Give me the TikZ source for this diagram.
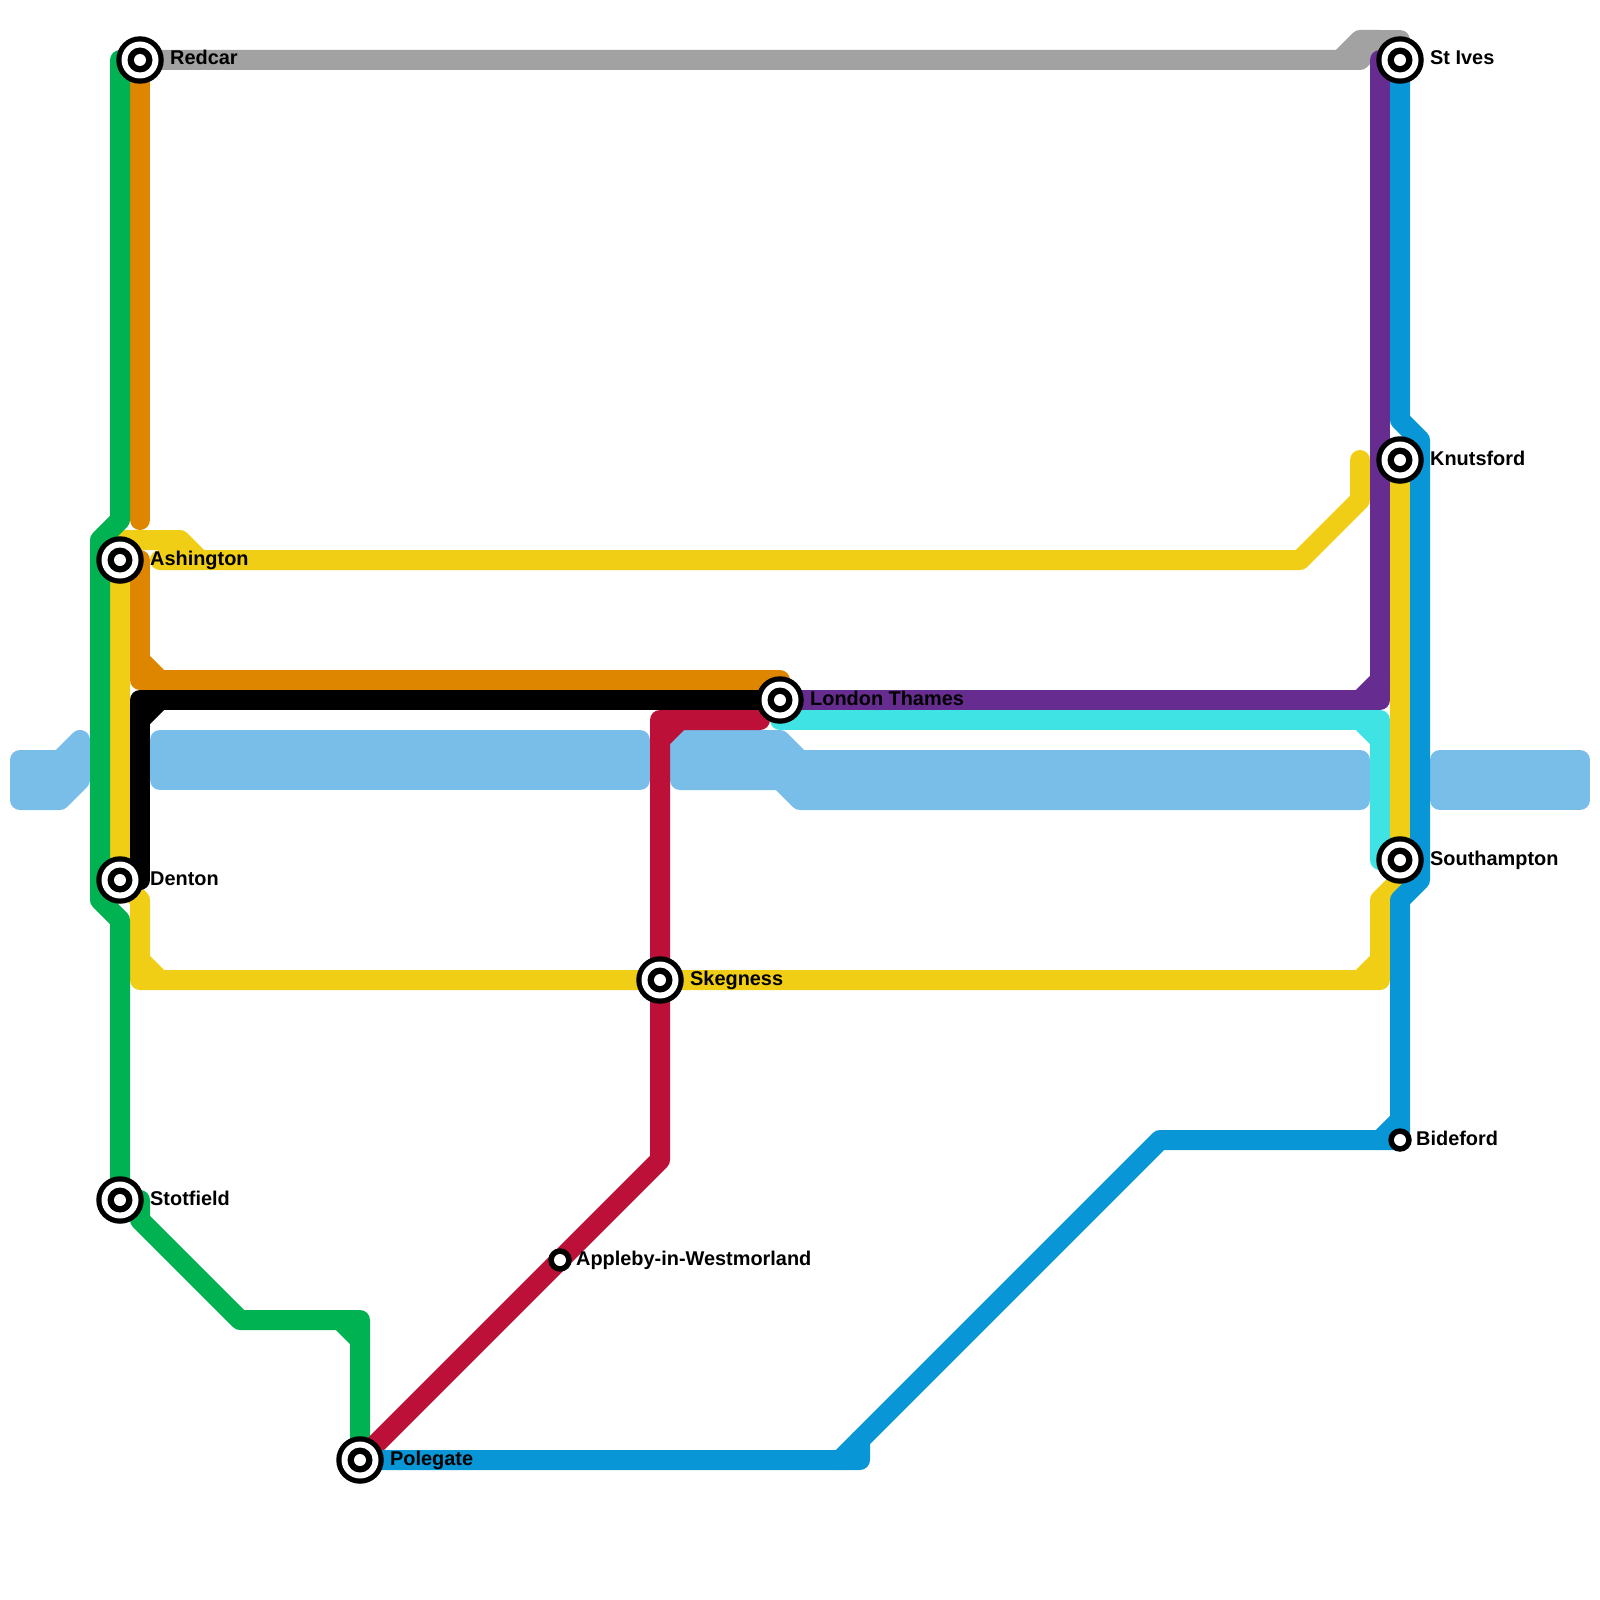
\documentclass[tikz,border=0pt]{standalone}
\usepackage{fontspec}
\setmainfont{Liberation Sans}

\definecolor{riverblue}{HTML}{79BDE9}
\definecolor{linegray}{HTML}{A2A2A2}
\definecolor{lineyellow}{HTML}{F0CE15}
\definecolor{lineorange}{HTML}{DF8600}
\definecolor{linegreen}{HTML}{00B251}
\definecolor{linepurple}{HTML}{662C90}
\definecolor{linecyan}{HTML}{40E3E3}
\definecolor{linered}{HTML}{BD1038}
\definecolor{lineblue}{HTML}{0896D7}

\begin{document}
\begin{tikzpicture}[x=1pt, y=-1pt,
		river/.style={fill=riverblue, draw=riverblue, line width=20pt, line join=round},
		route/.style={line width=20pt, line cap=round, line join=round},
		stopdisc/.style={circle, fill=#1, inner sep=0pt, outer sep=0pt},
		stoplabel/.style={anchor=base west, inner sep=0pt, font=\bfseries\fontsize{19.9}{22}\selectfont}]
		\useasboundingbox (0, 0) rectangle (1600, 1600);
		
		\foreach \name/\x/\y in {redcar/140/60, ashington/120/560, denton/120/880, stotfield/120/1200, polegate/360/1460, appleby/560/1260, skegness/660/980, thames/780/700, stives/1400/60, knutsford/1400/460, southampton/1400/860, bideford/1400/1140}
		\coordinate (\name) at (\x, \y);
		
		% River
		\draw[river] (20, 760) -- (60, 760) -- (80, 740) -- (80, 780) -- (60, 800) -- (20, 800) -- cycle;
		\draw[river] (160, 740) -- (640, 740) -- (640, 780) -- (160, 780) -- cycle;
		\draw[river] (680, 740) -- (780, 740) -- (800, 760) -- (1360, 760) -- (1360, 800) -- (800, 800) -- (780, 780) -- (680, 780) -- cycle;
		\draw[river] (1440, 760) -- (1580, 760) -- (1580, 800) -- (1440, 800) -- cycle;
		
		% Gray line
		\draw[route, linegray] (redcar) -- (1360, 60) -- (1380, 40) -- (1360, 40) -- (1340, 60);
		\draw[route, linegray] (1380, 40) -- (1400, 40) -- (stives);
		
		% Yellow line
		\draw[route, lineyellow] (denton) -- (ashington) -- (120, 540) -- (180, 540) -- (200, 560);
		\draw[route, lineyellow] (160, 560) -- (1300, 560) -- (1360, 500) -- (1360, 460);
		\draw[route, lineyellow] (denton) -- (140, 900) -- (140, 980) -- (skegness) -- (1380, 980) -- (1380, 900) -- (1400, 880) -- (knutsford);
		\draw[route, lineyellow] (140, 960) -- (160, 980);
		\draw[route, lineyellow] (1360, 980) -- (1380, 960);
		
		% Orange line
		\draw[route, lineorange] (redcar) -- (140, 520);
		\draw[route, lineorange] (140, 560) -- (140, 680) -- (780, 680);
		\draw[route, lineorange] (140, 660) -- (160, 680);
		
		% Green line
		\draw[route, linegreen] (120, 60) -- (120, 520) -- (100, 540) -- (100, 900) -- (120, 920) -- (stotfield) -- (140, 1200) -- (140, 1220) -- (240, 1320) -- (360, 1320) -- (polegate);
		\draw[route, linegreen] (340, 1320) -- (360, 1340);
		
		% Purple line
		\draw[route, linepurple] (thames) -- (1380, 700) -- (1380, 60);
		\draw[route, linepurple] (1360, 700) -- (1380, 680);
		
		% Cyan line
		\draw[route, linecyan] (780, 720) -- (1380, 720) -- (1380, 860);
		\draw[route, linecyan] (1360, 720) -- (1380, 740);
		
		% Red line
		\draw[route, linered] (polegate) -- (660, 1160) -- (skegness) -- (660, 720) -- (760, 720);
		\draw[route, linered] (660, 740) -- (680, 720);
		
		% Black line
		\draw[route, black] (140, 880) -- (140, 700) -- (thames);
		\draw[route, black] (140, 720) -- (160, 700);
		
		% Blue line
		\draw[route, lineblue] (stives) -- (1400, 420) -- (1420, 440) -- (1420, 880) -- (1400, 900) -- (bideford) -- (1160, 1140) -- (860, 1440) -- (860, 1460) -- (polegate);
		\draw[route, lineblue] (840, 1460) -- (860, 1440);
		\draw[route, lineblue] (1380, 1140) -- (1400, 1120);
		
		% Stops and their names
		\foreach \name/\ltext in {redcar/Redcar, ashington/Ashington, denton/Denton, stotfield/Stotfield, polegate/Polegate, skegness/Skegness, thames/London Thames, stives/St Ives, knutsford/Knutsford, southampton/Southampton}
		{
			\node[stopdisc=black, minimum size=47.5pt] (\name-stop) at (\name) {};
			\node[stopdisc=white, minimum size=37pt] at (\name) {};
			\node[stopdisc=black, minimum size=25pt] at (\name) {};
			\node[stopdisc=white, minimum size=12pt] at (\name) {};
			\node[stoplabel] (\name-label) at ([shift={(30, 5)}]\name) {\ltext};
		}
		\foreach \name/\ltext in {appleby/Appleby-in-Westmorland, bideford/Bideford}
		{
			\node[stopdisc=black, minimum size=23.5pt] (\name-stop) at (\name) {};
			\node[stopdisc=white, minimum size=12pt] at (\name) {};
			\node[stoplabel] (\name-label) at ([shift={(16, 5)}]\name) {\ltext};
		}
\end{tikzpicture}
\end{document}
